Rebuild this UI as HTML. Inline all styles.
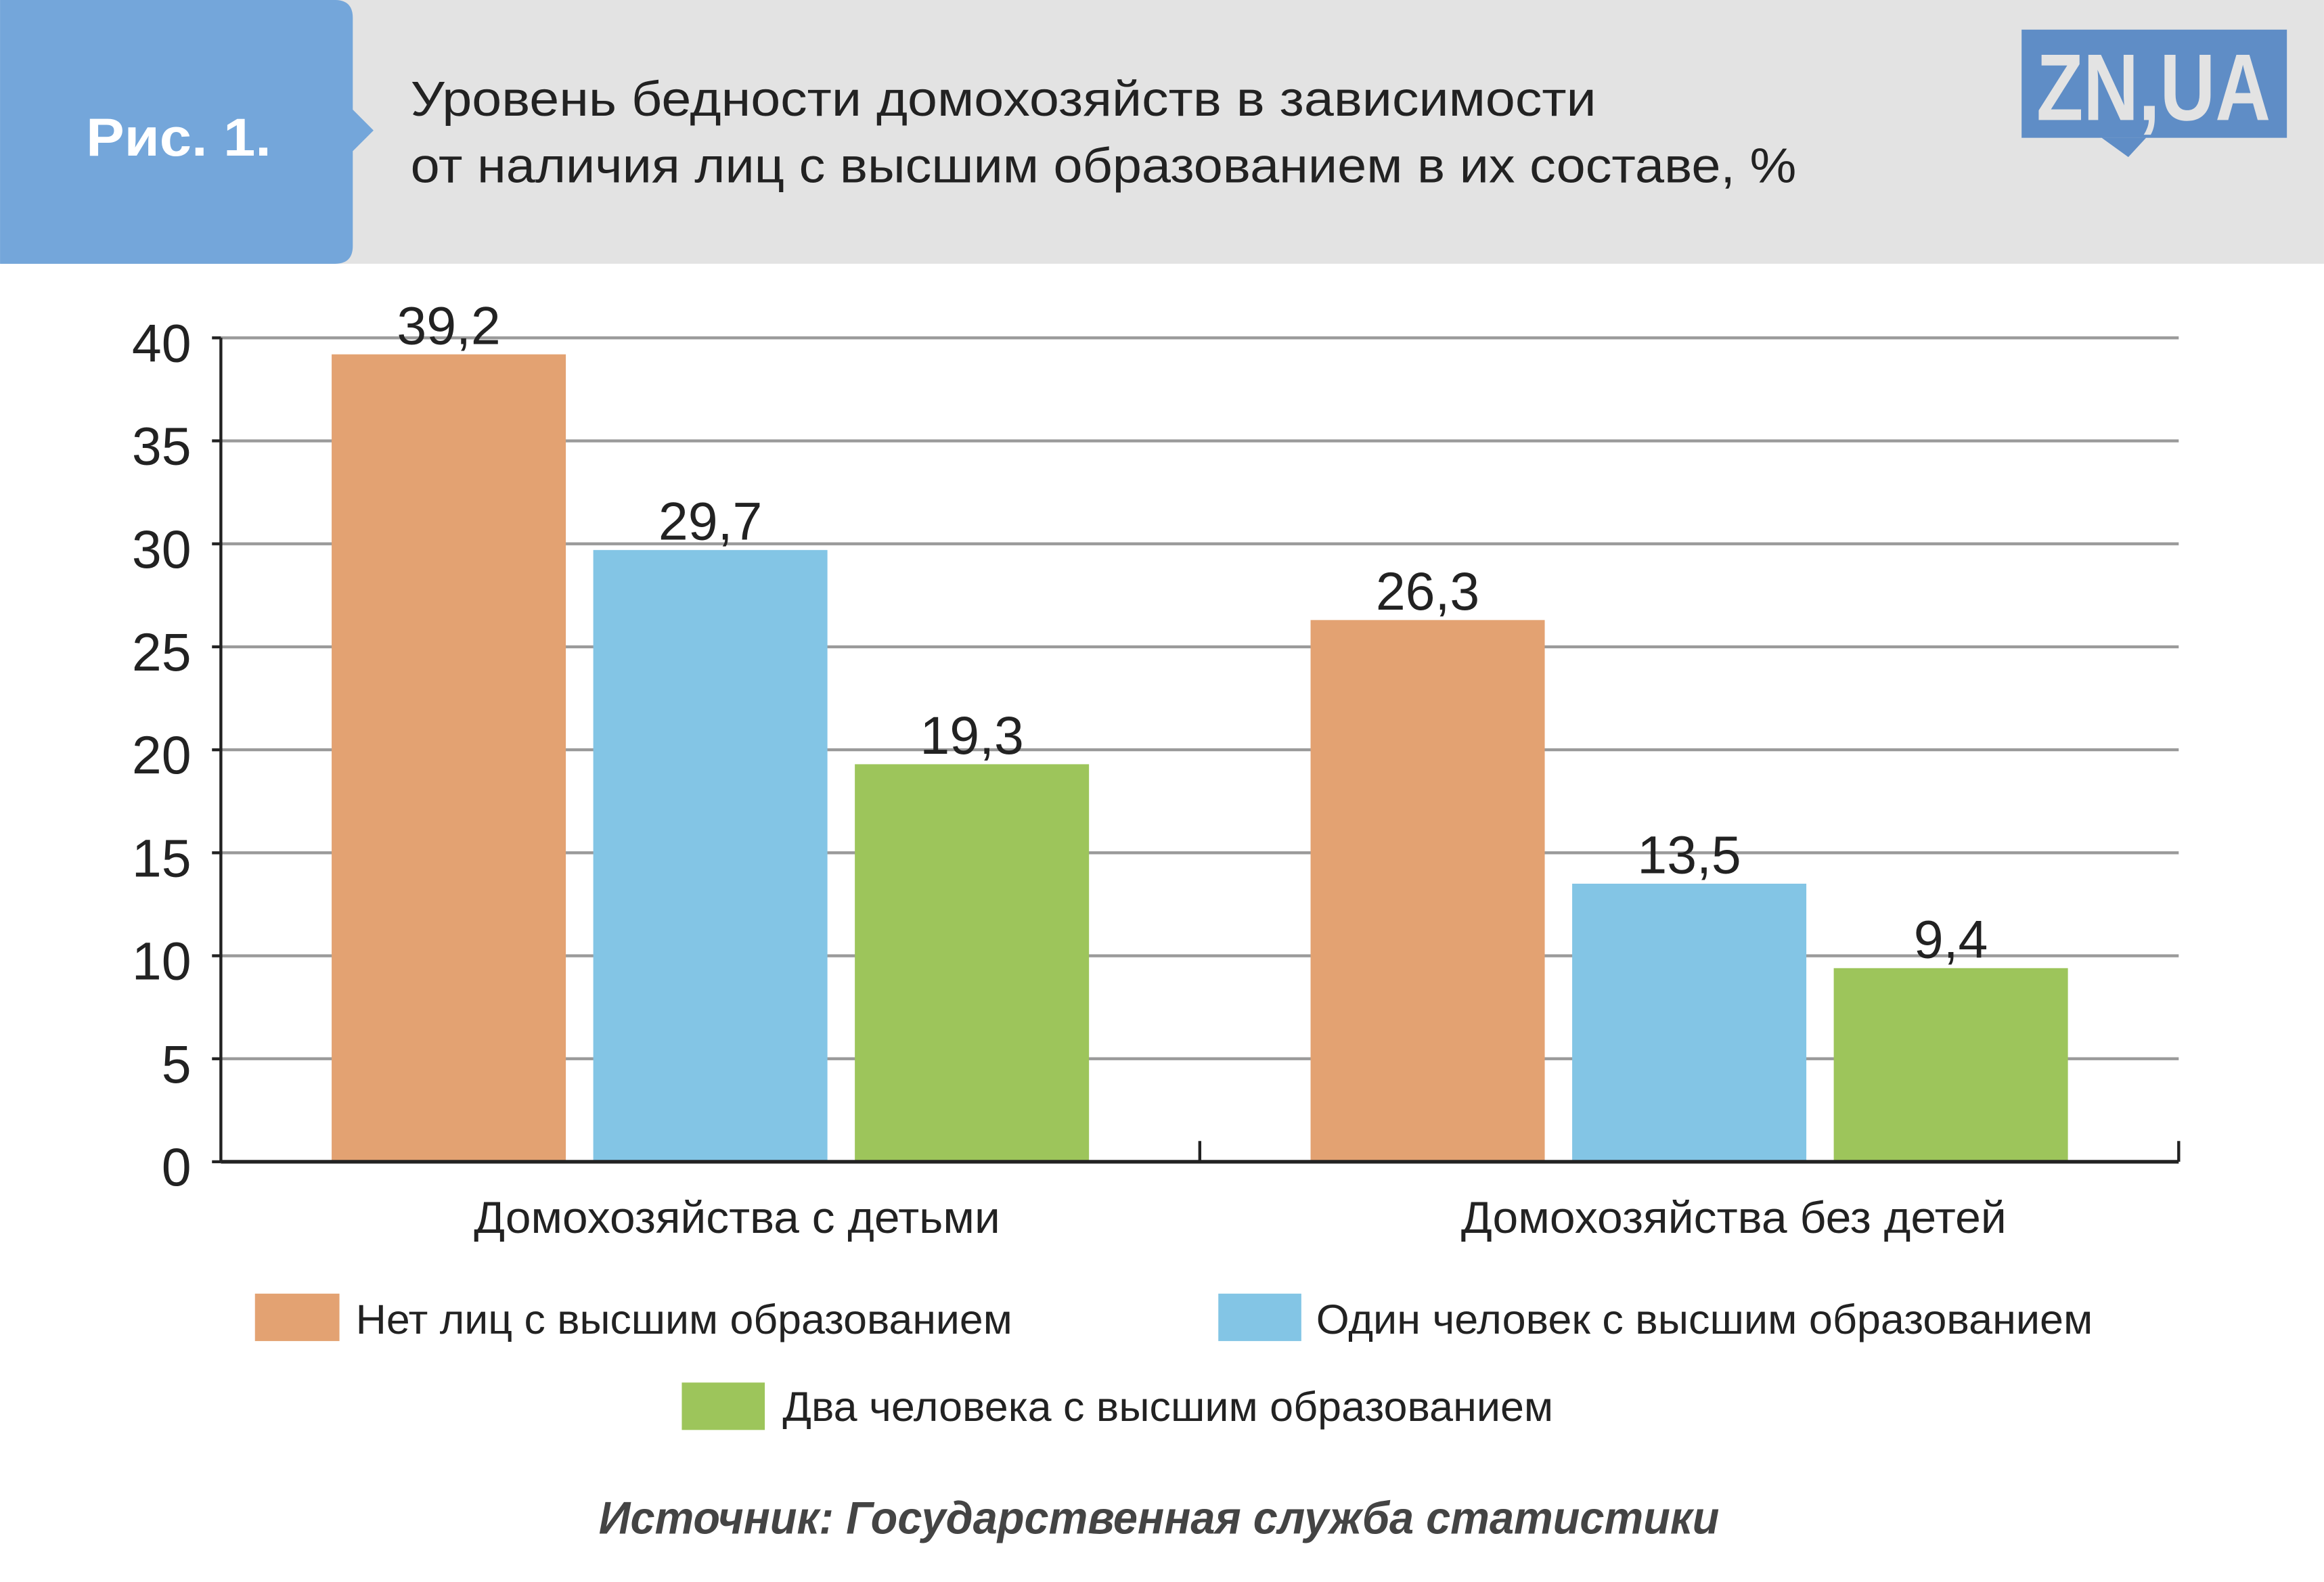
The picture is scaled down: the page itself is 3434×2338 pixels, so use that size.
<!DOCTYPE html>
<html><head><meta charset="utf-8"><style>
html,body{margin:0;padding:0;background:#fff}
svg{display:block}
text{font-family:"Liberation Sans",sans-serif}
</style></head><body>
<svg id="chart" width="3434" height="2338" viewBox="0 0 1568 1067.6" xmlns="http://www.w3.org/2000/svg">
<rect x="0" y="0" width="1568" height="178" fill="#e3e3e3"/>
<path d="M0 0 H226 Q238 0 238 12 V74 L252 88 L238 102 V166 Q238 178 226 178 H0 Z" fill="#74a6da"/>
<text x="58" y="105" font-size="36" font-weight="bold" fill="#fff" textLength="125" lengthAdjust="spacingAndGlyphs">Рис. 1.</text>
<text font-size="33" fill="#222"><tspan x="277" y="78" textLength="800" lengthAdjust="spacingAndGlyphs">Уровень бедности домохозяйств в зависимости</tspan><tspan x="277" y="123" textLength="935" lengthAdjust="spacingAndGlyphs">от наличия лиц с высшим образованием в их составе, %</tspan></text>
<g>
<rect x="1364" y="20" width="179" height="73" fill="#5f8dc6"/>
<path d="M1418 93 L1436 106 L1448 93 Z" fill="#5f8dc6"/>
<text x="1453" y="81" font-size="64" font-weight="bold" fill="#e3e3e3" text-anchor="middle" textLength="158" lengthAdjust="spacingAndGlyphs">ZN,UA</text>
</g>
<g id="plot"></g>
<g>
<rect x="172" y="873" width="57" height="32" fill="#e3a272"/>
<text x="240" y="900" font-size="28" fill="#222" textLength="443" lengthAdjust="spacingAndGlyphs">Нет лиц с высшим образованием</text>
<rect x="822" y="873" width="56" height="32" fill="#83c5e5"/>
<text x="888" y="900" font-size="28" fill="#222" textLength="524" lengthAdjust="spacingAndGlyphs">Один человек с высшим образованием</text>
<rect x="460" y="933" width="56" height="32" fill="#9dc55b"/>
<text x="528" y="959" font-size="28" fill="#222" textLength="520" lengthAdjust="spacingAndGlyphs">Два человека с высшим образованием</text>
</g>
<text x="782" y="1035" font-size="31" font-weight="bold" font-style="italic" fill="#444" text-anchor="middle" textLength="756" lengthAdjust="spacingAndGlyphs">Источник: Государственная служба статистики</text>
</svg>
<script>
const categories = ["Домохозяйства с детьми", "Домохозяйства без детей"];
const seriesNone = [39.2, 26.3];
const seriesOne = [29.7, 13.5];
const seriesTwo = [19.3, 9.4];
const valueLabels = [["39,2","29,7","19,3"],["26,3","13,5","9,4"]];
const yTicks = [0,5,10,15,20,25,30,35,40];

const NS="http://www.w3.org/2000/svg";
const g=document.getElementById('plot');
const x0=149,x1=1470,yBase=784,yTop=228,yMax=40;
const y=v=>yBase-(yBase-yTop)*v/yMax;
function el(t,a,p){const e=document.createElementNS(NS,t);for(const k in a)e.setAttribute(k,a[k]);(p||g).appendChild(e);return e;}
yTicks.forEach(t=>{
  if(t>0){const l=el('line',{x1:x0,x2:x1,y1:y(t),y2:y(t),stroke:'#9a9a9a','stroke-width':2});
  
  }
  el('line',{x1:x0-6,x2:x0,y1:y(t),y2:y(t),stroke:'#222','stroke-width':2});
  const tx=el('text',{x:129,y:y(t)+16,'font-size':36,fill:'#222','text-anchor':'end'});
  tx.textContent=t;
  
  
});
const groupW=(x1-x0)/categories.length;
const colors=['#e3a272','#83c5e5','#9dc55b'];
const series=[seriesNone,seriesOne,seriesTwo];
const barW=158,step=176.5;
categories.forEach((c,i)=>{
  const cx=x0+groupW*(i+0.5);
  series.forEach((s,j)=>{
    const bx=cx-barW/2+(j-1)*step;
    const r=el('rect',{x:bx,y:y(s[i]),width:barW,height:yBase-y(s[i]),fill:colors[j]});
    
    
    const t=el('text',{x:bx+barW/2,y:y(s[i])-7,'font-size':36,fill:'#222','text-anchor':'middle'});
    t.textContent=valueLabels[i][j];
    
    
  });
  const ct=el('text',{x:cx+(i===0?18:30),y:832,'font-size':30,fill:'#222','text-anchor':'middle',textLength:(i===0?355:368),lengthAdjust:'spacingAndGlyphs'});
  ct.textContent=c;
  
  
  el('line',{x1:x0+groupW*(i+1),x2:x0+groupW*(i+1),y1:770,y2:784,stroke:'#222','stroke-width':2});
});
const ax=el('line',{x1:x0,x2:x1,y1:yBase,y2:yBase,stroke:'#222','stroke-width':2.5});


const ay=el('line',{x1:x0,x2:x0,y1:yTop,y2:yBase,stroke:'#222','stroke-width':2});


</script>
</body></html>
